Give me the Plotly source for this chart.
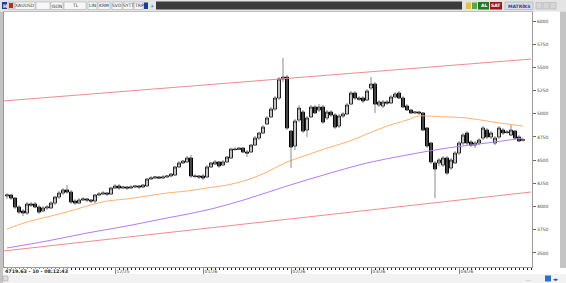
import plotly.graph_objects as go
import numpy as np

# ---------------- data ----------------
symbol = "XAUUSD"
opens = [4114, 4125, 4092, 3995, 3952, 3931, 4028, 4028, 3995, 3952,
         3985, 3985, 4038, 4103, 4146, 4179, 4157, 4060, 4038, 4071,
         4082, 4071, 4060, 4125, 4135, 4146, 4135, 4200, 4222, 4200,
         4211, 4200, 4211, 4222, 4211, 4222, 4297, 4308, 4319, 4308,
         4319, 4330, 4340, 4427, 4470, 4481, 4524, 4330, 4330, 4330,
         4319, 4427, 4459, 4481, 4448, 4481, 4524, 4620, 4615, 4631,
         4588, 4588, 4663, 4739, 4793, 4890, 4966, 5051, 5170, 5375,
         5396, 4814, 4653, 4933, 5019, 4825, 4966, 5073, 5041, 5073,
         4955, 5019, 4987, 4868, 4976, 4998, 5105, 5224, 5170, 5170,
         5148, 5278, 5321, 5095, 5084, 5127, 5116, 5181, 5224, 5170,
         5084, 5041, 5009, 5019, 5009, 4847, 4685, 4470, 4470, 4448,
         4524, 4416, 4470, 4577, 4685, 4793, 4696, 4663, 4685, 4739,
         4825, 4750, 4685, 4750, 4825, 4804, 4771, 4814, 4750, 4715]
highs = [4146, 4135, 4103, 4017, 3974, 4049, 4049, 4049, 4017, 4006,
         4017, 4060, 4114, 4168, 4200, 4232, 4179, 4082, 4092, 4103,
         4092, 4082, 4135, 4157, 4168, 4157, 4211, 4243, 4243, 4222,
         4222, 4232, 4232, 4232, 4243, 4308, 4330, 4330, 4330, 4340,
         4340, 4362, 4437, 4491, 4502, 4545, 4556, 4351, 4340, 4351,
         4448, 4481, 4502, 4491, 4502, 4545, 4631, 4642, 4642, 4642,
         4610, 4674, 4761, 4804, 4879, 4976, 5073, 5191, 5396, 5601,
         5418, 4825, 4944, 5095, 5041, 4976, 5095, 5095, 5105, 5095,
         5041, 5041, 5009, 4998, 5019, 5116, 5245, 5245, 5191, 5191,
         5267, 5396, 5343, 5148, 5148, 5148, 5202, 5235, 5245, 5191,
         5105, 5051, 5030, 5030, 5019, 4857, 4696, 4491, 4524, 4545,
         4545, 4524, 4599, 4707, 4793, 4814, 4717, 4707, 4739, 4868,
         4847, 4814, 4761, 4868, 4847, 4825, 4879, 4825, 4771, 4735]
lows = [4082, 4071, 3974, 3920, 3898, 3909, 3995, 3985, 3920, 3941,
        3963, 3974, 4017, 4082, 4125, 4135, 4028, 4017, 4028, 4060,
        4049, 4038, 4038, 4114, 4125, 4114, 4125, 4189, 4179, 4189,
        4179, 4189, 4200, 4189, 4200, 4211, 4286, 4297, 4297, 4297,
        4308, 4319, 4330, 4416, 4459, 4470, 4308, 4308, 4297, 4286,
        4308, 4416, 4448, 4416, 4437, 4470, 4513, 4599, 4610, 4577,
        4534, 4577, 4653, 4717, 4782, 4879, 4955, 5030, 5148, 5343,
        4825, 4416, 4610, 4911, 4793, 4750, 4955, 4998, 5019, 4890,
        4933, 4966, 4836, 4847, 4955, 4987, 5095, 5148, 5138, 5116,
        5138, 5256, 5009, 5073, 5062, 5095, 5105, 5170, 5158, 5062,
        5030, 4998, 4998, 4987, 4814, 4631, 4459, 4092, 4437, 4427,
        4340, 4394, 4459, 4556, 4663, 4663, 4642, 4631, 4663, 4717,
        4728, 4728, 4663, 4728, 4771, 4782, 4761, 4717, 4696, 4700]
closes = [4125, 4092, 3995, 3941, 3931, 4028, 4017, 3995, 3941, 3985,
          3995, 4038, 4103, 4146, 4179, 4157, 4049, 4038, 4071, 4082,
          4071, 4060, 4125, 4135, 4146, 4135, 4200, 4222, 4200, 4211,
          4200, 4211, 4222, 4211, 4232, 4297, 4308, 4319, 4308, 4319,
          4330, 4351, 4427, 4470, 4491, 4524, 4330, 4325, 4319, 4308,
          4427, 4470, 4481, 4437, 4481, 4534, 4620, 4615, 4631, 4588,
          4577, 4663, 4739, 4793, 4857, 4955, 5051, 5170, 5375, 5396,
          4847, 4642, 4922, 5062, 4814, 4955, 5073, 5009, 5073, 4911,
          5019, 4987, 4857, 4976, 4998, 5095, 5224, 5170, 5158, 5138,
          5245, 5321, 5105, 5127, 5127, 5116, 5181, 5213, 5170, 5073,
          5041, 5009, 5019, 5009, 4825, 4653, 4481, 4405, 4502, 4524,
          4362, 4502, 4577, 4685, 4771, 4685, 4663, 4685, 4717, 4847,
          4750, 4793, 4739, 4847, 4793, 4800, 4825, 4739, 4707, 4719.63]

# moving averages, read at sampled bars
ma_orange_idx = [0, 5, 10, 15, 20, 25, 30, 35, 40, 45, 50, 55, 60, 65, 70,
                 75, 80, 85, 90, 95, 100, 103, 105, 110, 115, 120, 125, 129]
ma_orange = [3758, 3834, 3888, 3942, 4006, 4060, 4082, 4114, 4146, 4168,
             4200, 4232, 4286, 4373, 4481, 4556, 4631, 4696, 4782, 4868,
             4933, 4976, 4976, 4966, 4955, 4922, 4890, 4868]
ma_purple_idx = [0, 10, 20, 30, 40, 50, 60, 70, 80, 90, 100, 110, 120, 129]
ma_purple = [3554, 3629, 3715, 3791, 3877, 3963, 4082, 4222, 4351, 4470,
             4556, 4631, 4685, 4739]

# trend channel drawn on the chart
channel_idx = [-1, 131]
channel_upper = [5138, 5590]
channel_lower = [3521, 4157]

month_idx = [27, 49, 71, 91, 113]
month_labels = ["12/25", "01/26", "02/26", "03/26", "04/26"]
price_ticks = [3500, 3750, 4000, 4250, 4500, 4750, 5000, 5250, 5500, 5750, 6000]
status_text = "4719.63 - 10 - 08:12:43"

# ---------------- figure ----------------
W, H = 566, 283
ML, MR, MT, MB = 4, 34, 12, 16
PW, PH = W - ML - MR, H - MT - MB


def X(px):
    return (px - ML) / PW


def Y(py):
    return (H - MB - py) / PH


idx = np.arange(len(closes))
o = np.array(opens, float)
c = np.array(closes, float)

fig = go.Figure()

# channel lines
for vals in (channel_upper, channel_lower):
    fig.add_trace(go.Scatter(x=channel_idx, y=vals, mode="lines",
                             line=dict(color="#f08c8c", width=1), hoverinfo="skip"))
# moving averages
fig.add_trace(go.Scatter(x=ma_orange_idx, y=ma_orange, mode="lines",
                         line=dict(color="#ffb273", width=1, shape="spline"), hoverinfo="skip"))
fig.add_trace(go.Scatter(x=ma_purple_idx, y=ma_purple, mode="lines",
                         line=dict(color="#b57cf2", width=1, shape="spline"), hoverinfo="skip"))

# wicks
wx, wy = [], []
for i, (lo, hi) in enumerate(zip(lows, highs)):
    wx += [i, i, None]
    wy += [lo, hi, None]
fig.add_trace(go.Scatter(x=wx, y=wy, mode="lines",
                         line=dict(color="#8a8a8a", width=1), hoverinfo="skip"))

# bodies
fig.add_trace(go.Candlestick(
    x=idx, open=o, close=c, high=np.maximum(o, c), low=np.minimum(o, c),
    increasing=dict(fillcolor="white", line=dict(color="#222222", width=1)),
    decreasing=dict(fillcolor="black", line=dict(color="black", width=1)),
    whiskerwidth=0, hoverinfo="skip"))

shapes = []
ann = []


def rect(x0, y0, x1, y1, fill, line=None, lw=0):
    shapes.append(dict(type="rect", xref="paper", yref="paper",
                       x0=X(x0), x1=X(x1), y0=Y(y0), y1=Y(y1),
                       fillcolor=fill, line=dict(color=line or fill, width=lw),
                       layer="above"))


def text(px, py, s, size=5, color="#222", anchor="center", bold=False, bg=None):
    ann.append(dict(xref="paper", yref="paper", x=X(px), y=Y(py), text=("<b>%s</b>" % s) if bold else s,
                    showarrow=False, xanchor=anchor, yanchor="middle",
                    font=dict(size=size, color=color, family="DejaVu Sans"),
                    bgcolor=bg, borderpad=0))


# window chrome
rect(0, 0, 566, 11.5, "#e4e4e4")
rect(0, 11.5, 3, 283, "#c4c4c4")
rect(560, 11.5, 566, 268, "#c4c4c4")
rect(3, 274, 566, 283, "#f2f2f2")
rect(156, 1.5, 462, 9.5, "#3c3c3c")

# toolbar left
rect(2, 2, 7, 9, "#1d3f8f")
text(4.5, 5.5, "H", 5, "white", bold=True)
rect(8, 2, 14, 9, "#e8e8e8", "#999", 0.5)
rect(9, 3, 13, 8, "#cc2222")
boxes = [(15, 35, "XAUUSD"), (36, 50, ""), (51, 63, "GÜN"), (64, 86, "TL"),
         (88, 97, "LIN"), (98, 110, "KRM"), (112, 122, "SVD"), (123, 133, "SYTT"),
         (134, 143, "TRP")]
for x0, x1, s in boxes:
    rect(x0, 2, x1, 9.5, "#f7f7f7", "#a0a0a0", 0.5)
    if s:
        text((x0 + x1) / 2, 5.8, s, 4.5, "#333")
rect(144, 2.5, 148, 9, "#1d3f8f")
rect(149, 2.5, 154, 9, "#e8e8e8")
text(151.5, 5.8, "✈", 5, "#2a8fd8")

# toolbar right
rect(466, 2.5, 471, 9, "#e7c04a")
rect(472, 2.5, 477, 9, "#5aa845")
rect(478, 2, 489, 9.5, "#1f7a1f")
text(483.5, 5.8, "AL", 4.5, "white", bold=True)
rect(490, 2, 502, 9.5, "#a31515")
text(496, 5.8, "SAT", 4.5, "white", bold=True)
rect(505, 2, 533, 9.5, "#dcdce8", "#a0a0a0", 0.5)
text(519, 5.8, "MATRİKS", 4.5, "#2b3f9e", bold=True)
for x0 in (536, 543, 550):
    rect(x0, 2.5, x0 + 6, 9, "#d6d6d6", "#aaa", 0.5)

# bottom bar icons
rect(3, 276, 8, 281, "#dddddd", "#999", 0.5)
text(528, 278.5, "...", 5, "#555")
rect(545, 275.5, 551, 281.5, "#2a6fc9")
text(556, 278.5, "◂▸", 5, "#1d3f8f")

# status
text(4, 271.2, status_text, 4.8, "#222", anchor="left", bold=True, bg="white")

fig.update_layout(
    width=W, height=H, template="none",
    margin=dict(l=ML, r=MR, t=MT, b=MB, pad=0),
    paper_bgcolor="white", plot_bgcolor="white",
    showlegend=False, boxgap=0.25, boxgroupgap=0,
    shapes=shapes, annotations=ann,
    xaxis=dict(range=[-0.75, 131.25], showgrid=False, zeroline=False,
               rangeslider=dict(visible=False),
               tickmode="array", tickvals=month_idx, ticktext=month_labels,
               ticks="outside", ticklen=7, tickwidth=0.6, tickcolor="#888",
               tickfont=dict(size=4.5, color="#444", family="DejaVu Sans"),
               ticklabelshift=8, ticklabelstandoff=-7,
               showline=True, linecolor="#9a9a9a", linewidth=1, mirror=True,
               minor=dict(tick0=0, dtick=1, ticks="outside", ticklen=2,
                          tickcolor="#222", tickwidth=1),
               automargin=False, fixedrange=True),
    yaxis=dict(range=[3349, 6097], side="right", showgrid=False, zeroline=False,
               tickmode="array", tickvals=price_ticks,
               ticktext=[str(v) for v in price_ticks],
               ticks="outside", ticklen=3, tickcolor="#666",
               tickfont=dict(size=4.5, color="#444", family="DejaVu Sans"),
               showline=True, linecolor="#9a9a9a", linewidth=1, mirror=True,
               automargin=False, fixedrange=True),
)

fig.write_html("out.html")
